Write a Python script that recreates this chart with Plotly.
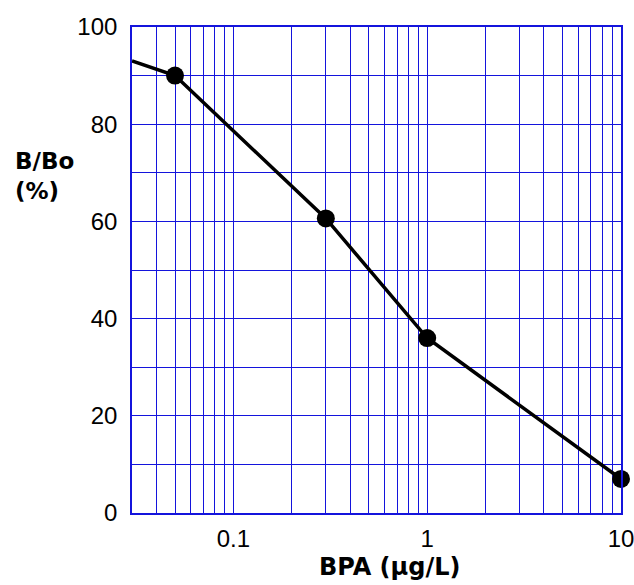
import plotly.graph_objects as go

# Data
bpa_points = [0.05, 0.3, 1, 10]
bbo_points = [90, 60.6, 36, 7]
# Line starts at the left edge of the axis
curve_x = [0.03, 0.05, 0.3, 1, 10]
curve_y = [93, 90, 60.6, 36, 7]

x_major = [0.1, 1, 10]
x_major_labels = ["0.1", "1", "10"]
y_major = [0, 20, 40, 60, 80, 100]

BLUE = "#1414DC"

# grid positions (log-paper style)
x_grid = [m * d for d in (0.01, 0.1, 1) for m in range(1, 10)]
x_grid = [v for v in x_grid if v > 0.031] + [10]
x_text = [x_major_labels[x_major.index(v)] if v in x_major else "" for v in x_grid]
y_grid = list(range(0, 101, 10))
y_text = [str(v) if v in y_major else "" for v in y_grid]

fig = go.Figure()
fig.add_trace(go.Scatter(x=curve_x, y=curve_y, mode="lines",
                         line=dict(color="black", width=3.5),
                         cliponaxis=False, showlegend=False, hoverinfo="skip"))
fig.add_trace(go.Scatter(x=bpa_points, y=bbo_points, mode="markers",
                         marker=dict(color="black", size=18),
                         cliponaxis=False, showlegend=False))

tick_font = dict(family="Liberation Sans", size=24, color="black")
title_font = dict(family="DejaVu Sans", size=23, color="black")

fig.update_layout(
    width=634, height=585,
    margin=dict(l=132, r=13, t=27, b=72),
    paper_bgcolor="white", plot_bgcolor="white",
    xaxis=dict(type="log", range=[-1.5229, 1],
               tickmode="array", tickvals=x_grid, ticktext=x_text,
               showgrid=True, gridcolor=BLUE, gridwidth=1.4,
               showline=True, linecolor=BLUE, linewidth=2.4, mirror=True,
               ticks="", tickfont=tick_font, zeroline=False,
               ticklabelstandoff=3, automargin=False,
               ticklabeloverflow="allow"),
    yaxis=dict(range=[0, 100],
               tickmode="array", tickvals=y_grid, ticktext=y_text,
               showgrid=True, gridcolor=BLUE, gridwidth=1.4,
               showline=True, linecolor=BLUE, linewidth=1.6, mirror=True,
               ticks="", tickfont=tick_font, zeroline=False,
               ticklabelstandoff=8, automargin=False,
               ticklabeloverflow="allow"),
    annotations=[
        dict(text="<b>B/Bo</b><br><b>(%)</b>", xref="paper", yref="paper",
             x=-0.243, y=0.693, xanchor="left", yanchor="middle",
             align="left", showarrow=False, font=title_font),
        dict(text="<b>BPA (μg/L)</b>", xref="paper", yref="paper",
             x=0.527, y=-0.144, xanchor="center", yanchor="bottom",
             showarrow=False, font=dict(family="DejaVu Sans", size=24, color="black")),
    ],
)

fig.write_html("out.html", config={"displayModeBar": False},
               post_script="document.body.style.margin='0';")
